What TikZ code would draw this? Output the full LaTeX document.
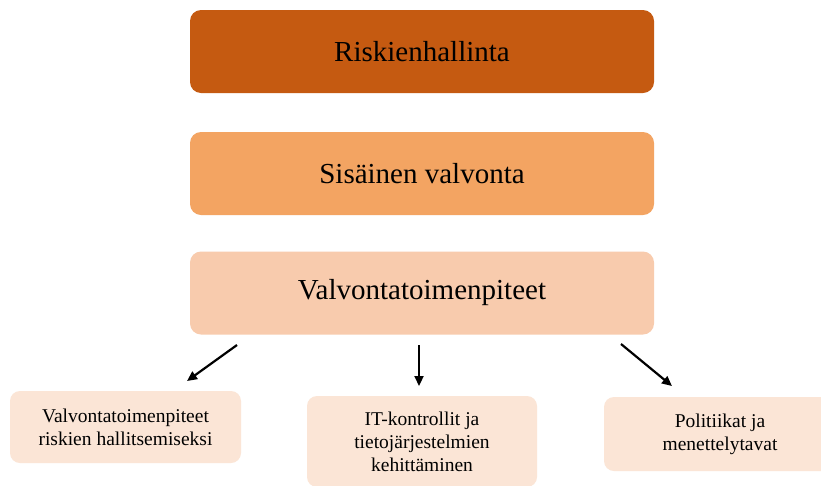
\documentclass[tikz,border=0pt]{standalone}
\usepackage{fontspec}
\setmainfont{Liberation Serif}
\usetikzlibrary{arrows.meta}
\definecolor{cDark}{HTML}{C55A11}
\definecolor{cMid}{HTML}{F3A462}
\definecolor{cLight}{HTML}{F8CBAD}
\definecolor{cPale}{HTML}{FBE5D6}
\begin{document}
\begin{tikzpicture}[x=1pt,y=-1pt,
  bigbox/.style={rounded corners=11pt, minimum width=464pt, minimum height=83pt, inner sep=0pt,
    font=\fontsize{29}{33}\selectfont, text=black},
  smallbox/.style={rounded corners=10pt, fill=cPale, inner sep=0pt, align=center,
    font=\fontsize{19.5}{23}\selectfont, text=black},
  arr/.style={line width=2.2pt, -{Triangle[length=10pt,width=9pt]}}]
\clip (0,0) rectangle (821,485);
\fill[white] (0,0) rectangle (821,485);
\node[bigbox, fill=cDark] (top) at (422,51.5) {Riskienhallinta};
\node[bigbox, fill=cMid] (mid) at (422,173.5) {Sisäinen valvonta};
\node[bigbox, fill=cLight] (low) at (422,293) {Valvontatoimenpiteet};
\node[smallbox, minimum width=231pt, minimum height=72pt] (b1) at (125.5,427)
  {Valvontatoimenpiteet\\riskien hallitsemiseksi};
\node[smallbox, minimum width=230pt, minimum height=91pt] (b2) at (422,441.5)
  {IT-kontrollit ja\\tietojärjestelmien\\kehittäminen};
\node[smallbox, minimum width=232pt, minimum height=74pt] (b3) at (720,434)
  {Politiikat ja\\menettelytavat};
\coordinate (s1) at (237,345);
\coordinate (e1) at (187,381);
\coordinate (s2) at (419,345);
\coordinate (e2) at (419,386);
\coordinate (s3) at (621,344);
\coordinate (e3) at (672,386);
\draw[arr] (s1) -- (e1);
\draw[arr] (s2) -- (e2);
\draw[arr] (s3) -- (e3);
\end{tikzpicture}
\end{document}
